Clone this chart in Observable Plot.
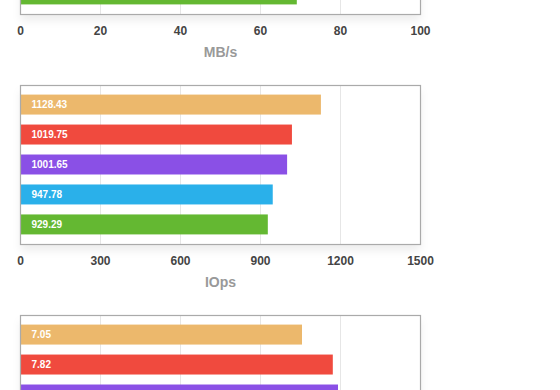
<!DOCTYPE html>
<html>
<head>
<meta charset="utf-8">
<script src="https://cdn.jsdelivr.net/npm/d3@7"></script>
<script src="https://cdn.jsdelivr.net/npm/@observablehq/plot@0.6"></script>
<style>
  html, body { margin: 0; padding: 0; background: #fff; }
  #wrap { position: relative; width: 560px; height: 390px; overflow: hidden; background: #fff; }
  .chart { position: absolute; left: 0; }
  svg { font-family: "Liberation Sans", Arial, Helvetica, sans-serif; }
</style>
</head>
<body>
<div id="wrap"></div>
<script>
// Categories (top to bottom) and their colours
const categories = ["c1", "c2", "c3", "c4", "c5"];
const colors = ["#ecb86c", "#f04a3e", "#8a50e6", "#2ab0ea", "#64b832"];

// Series values (null = not visible in the picture)
const mbpsValues = [null, null, null, null, 69.2];
const iopsValues = [1128.43, 1019.75, 1001.65, 947.78, 929.29];
const latencyValues = [7.05, 7.82, 7.95, null, null];

// Which value labels are visible in the picture
const mbpsShown = [false, false, false, false, false];
const iopsShown = [true, true, true, true, true];
const latencyShown = [true, true, false, false, false];

// Tick labels (the bottom chart's axis lies below the picture)
const mbpsTicks = [0, 20, 40, 60, 80, 100];
const iopsTicks = [0, 300, 600, 900, 1200, 1500];
const latencyTicks = [0, 2, 4, 6, 8, 10];

const charts = [
  {top: -155, values: mbpsValues, shown: mbpsShown, ticks: mbpsTicks, label: "MB/s", axis: true},
  {top: 75, values: iopsValues, shown: iopsShown, ticks: iopsTicks, label: "IOps", axis: true},
  {top: 305, values: latencyValues, shown: latencyShown, ticks: latencyTicks, label: null, axis: false}
];

const wrap = document.getElementById("wrap");

for (const c of charts) {
  const data = categories
    .map((cat, i) => ({cat, v: c.values[i], shown: c.shown[i]}))
    .filter(d => d.v != null);
  const domain = [c.ticks[0], c.ticks[c.ticks.length - 1]];
  const inner = c.ticks.slice(1, -1);
  const marks = [
    Plot.frame({fill: "white", stroke: null}),
    Plot.gridX(inner, {stroke: "#e6e6e6", strokeOpacity: 1}),
    Plot.barX(data, {x: "v", y: "cat", fill: "cat"}),
    Plot.text(data.filter(d => d.shown), {
      y: "cat", frameAnchor: "left", dx: 11, text: d => d.v.toFixed(2),
      fill: "white", fontSize: 10, fontWeight: "bold", textAnchor: "start"
    }),
    Plot.frame({stroke: "#aaa", strokeWidth: 1.2})
  ];
  if (c.axis) {
    marks.push(Plot.axisX(c.ticks, {
      tickSize: 0, tickPadding: 12, fontSize: 12, fontWeight: "bold",
      fill: "#444", label: null, tickFormat: d => String(d)
    }));
  }
  if (c.label) {
    marks.push(Plot.text([c.label], {
      frameAnchor: "bottom", dy: 42, text: d => d,
      fill: "#999", fontSize: 14, fontWeight: "bold", textAnchor: "middle"
    }));
  }
  const svg = Plot.plot({
    width: 560,
    height: 230,
    marginTop: 10,
    marginBottom: 61,
    marginLeft: 20,
    marginRight: 140,
    style: {background: "transparent", overflow: "visible"},
    x: {domain, axis: null},
    y: {domain: categories, paddingInner: 1 / 3, paddingOuter: 0.32, axis: null, round: false},
    color: {domain: categories, range: colors},
    marks
  });
  // soft shadow under the frame
  const frames = svg.querySelectorAll('[aria-label="frame"]');
  if (frames.length) frames[0].style.filter = "drop-shadow(0px 6px 4px rgba(0,0,0,0.07))";
  const div = document.createElement("div");
  div.className = "chart";
  div.style.top = c.top + "px";
  div.appendChild(svg);
  wrap.appendChild(div);
}
</script>
</body>
</html>
